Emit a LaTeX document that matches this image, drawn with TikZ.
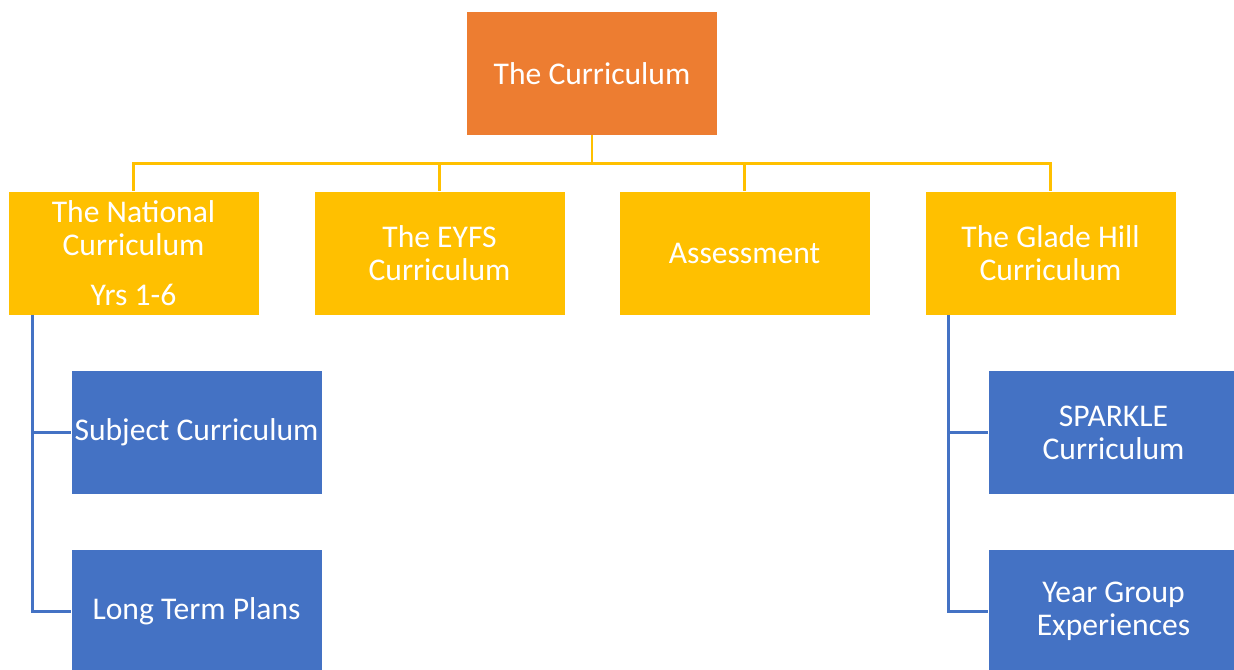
\documentclass[tikz,border=0pt]{standalone}
\usepackage{fontspec}
\setmainfont{Carlito}
\usetikzlibrary{positioning}
\usetikzlibrary{calc}
\definecolor{topOrange}{HTML}{ED7D31}
\definecolor{midYellow}{HTML}{FFC000}
\definecolor{lowBlue}{HTML}{4472C4}

\begin{document}
\begin{tikzpicture}[x=0.5pt,y=-0.5pt,
  box/.style={minimum width=125pt,minimum height=61.5pt,inner sep=0pt,align=center,text=white,font=\fontsize{15.8}{16.5}\selectfont},
  rootbox/.style={box,fill=topOrange},
  unitbox/.style={box,fill=midYellow},
  partbox/.style={box,fill=lowBlue},
  yline/.style={draw=midYellow,line width=1.4pt},
  bline/.style={draw=lowBlue,line width=1.4pt}]
\useasboundingbox (0,0) rectangle (1234,669);
\clip (0,0) rectangle (1234,669);

\node[rootbox](top) at (592,73.5){The Curriculum};
\node[unitbox](natl) at (133.5,253){The National\\Curriculum\\[8.5pt]Yrs 1-6};
\node[unitbox](eyfs) at (439.5,253){The EYFS\\Curriculum};
\node[unitbox](assess) at (744.5,253){Assessment};
\node[unitbox](glade) at (1050.5,253){The Glade Hill\\Curriculum};
\node[partbox](subj) at (196.5,432.5){Subject Curriculum};
\node[partbox](ltp) at (196.5,611.5){Long Term Plans};
\node[partbox](sparkle) at (1113.5,432.5){SPARKLE\\Curriculum};
\node[partbox](ygexp) at (1113.5,611.5){Year Group\\Experiences};

\coordinate (natlTrunk) at ($(natl.south west)+(24,0)$);
\coordinate (gladeTrunk) at ($(glade.south west)+(23,0)$);

\foreach \n in {natl,eyfs,assess,glade}
  \draw[yline] (top.south) -- ++(0,28) -| (\n.north);

\draw[bline] (natlTrunk) |- (subj.west);
\draw[bline] (natlTrunk) |- (ltp.west);
\draw[bline] (gladeTrunk) |- (sparkle.west);
\draw[bline] (gladeTrunk) |- (ygexp.west);
\end{tikzpicture}
\end{document}
